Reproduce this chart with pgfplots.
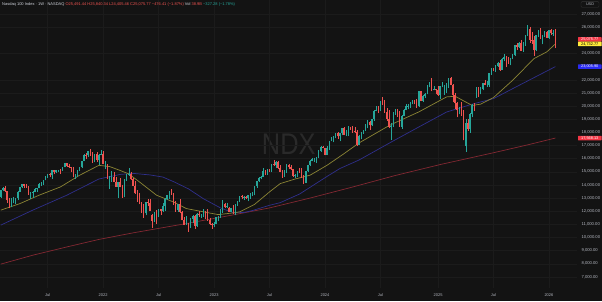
\documentclass[border=0pt]{standalone}
\usepackage{fontspec}
\setmainfont{Liberation Sans}
\usepackage{pgfplots}
\usepackage{pgfplotstable}
\pgfplotsset{compat=1.18}
\definecolor{bg}{HTML}{131313}
\definecolor{gridc}{HTML}{1B1B1B}
\definecolor{upc}{HTML}{26A69A}
\definecolor{dnc}{HTML}{EF5350}
\definecolor{maY}{HTML}{8C8535}
\definecolor{maB}{HTML}{2F2F8C}
\definecolor{maR}{HTML}{832832}
\definecolor{axtxt}{HTML}{B2B5BE}
\definecolor{ttl}{HTML}{D1D4DC}
\definecolor{boxR}{HTML}{F23645}
\definecolor{boxY}{HTML}{FFEB3B}
\definecolor{boxB}{HTML}{2B2BF2}
\definecolor{wm}{HTML}{2A2A2A}
\definecolor{usdb}{HTML}{363636}

\pgfplotstableread{
o h l c
13070 13640 12990 13613
13613 13810 13560 13803
13803 13880 13460 13535
13535 13560 12650 12828
12828 13040 12210 12669
12669 13000 12300 12799
12799 13100 12590 12870
12870 13000 12580 12978
12978 13500 12850 13480
13480 13850 13470 13845
13845 14050 13800 14041
14041 14060 13750 13951
13951 14070 13800 13860
13860 13900 13250 13420
13420 13440 12950 13430
13430 13540 13010 13470
13470 13760 13450 13686
13686 13790 13450 13773
13773 14110 13730 14069
14069 14200 13930 14142
14142 14400 14000 14360
14360 14650 14350 14640
14640 14850 14550 14810
14810 14900 14640 14730
14730 15130 14450 15120
15120 15150 14820 14960
14960 15120 14900 15100
15100 15170 14990 15160
15160 15210 14840 15080
15080 15380 15070 15340
15340 15660 15340 15650
15650 15700 15400 15420
15420 15560 15300 15330
15330 15400 14950 15320
15320 15340 14580 14690
14690 14850 14450 14720
14720 15150 14620 15150
15150 15360 15040 15340
15340 15850 15280 15850
15850 16320 15800 16290
16290 16400 15950 16250
16250 16600 16160 16570
16570 16765 16200 16280
16280 16480 15700 15740
15740 16330 15720 16330
16330 16500 15730 15880
15880 16320 15510 16300
16300 16660 16250 16320
16320 16570 15600 15610
15610 15790 15250 15611
15500 15600 14430 14440
14440 14660 13725 14540
14540 15050 14250 14600
14600 14950 14250 14254
14254 14600 13860 13870
13870 14000 13020 14230
14230 14490 13830 13840
13840 14010 13040 13300
13300 14440 13050 14420
14420 14820 14330 14810
14810 15260 14700 14860
14860 15000 14400 14450
14450 14520 13890 13900
13900 14320 13330 13350
13350 13580 12720 12850
12850 13390 12510 12580
12580 12690 11850 12390
12390 12550 11500 11835
11835 12700 11680 12680
12680 12940 12400 12650
12650 12950 12000 12010
11700 11800 10690 11265
11265 11950 11200 11900
11900 12110 11040 11600
11600 12200 11540 12130
12130 12200 11720 12050
12050 12600 11930 12390
12390 12970 12000 12950
12950 13240 12840 13200
13200 13570 12950 13530
13530 13720 13250 13290
13290 13350 12500 12600
12600 12750 11960 12100
12100 12550 11970 12540
12540 12950 11850 11930
11930 12000 11300 11310
11310 11540 10950 10970
10970 11660 10950 11040
11040 11130 10440 10770
10770 11480 10720 11440
11440 11710 11080 11670
11670 11700 10670 10900
10900 11850 10800 11800
11800 12000 11570 11680
11680 11820 11470 11790
11790 12160 11550 11960
11960 12000 11420 11560
11560 12170 11290 11320
11320 11490 10950 11060
11060 11080 10670 10940
10940 11140 10760 11040
11040 11550 10990 11540
11540 11640 11250 11620
11620 12180 11500 12170
12170 12880 11900 12570
12570 12650 12220 12300
12300 12600 12240 12360
12250 12320 11930 11960
11960 12280 11910 12260
12260 12470 11820 11830
11830 12540 11690 12520
12520 12790 12400 12770
12770 13190 12690 13180
13180 13200 12920 13060
13060 13140 12870 13080
13080 13150 12950 13000
13000 13270 12770 13250
13250 13350 12950 13340
13340 13470 13150 13340
13340 13900 13200 13880
13880 14320 13770 14300
14300 14630 14250 14550
14550 14700 14430 14620
14620 15280 14600 15080
15080 15100 14760 14890
14890 15200 14760 15180
15180 15230 14950 15040
15040 15600 15000 15560
15560 15930 15430 15490
15490 15800 15300 15750
15750 15820 15220 15270
15270 15500 14960 15020
15020 15120 14560 14690
14690 15170 14620 14940
14940 15600 14930 15480
15480 15560 15220 15330
15330 15500 15150 15200
15200 15250 14600 14700
14700 14820 14540 14720
14720 15050 14600 14990
14990 15290 14960 14980
14980 15280 14530 14540
14540 14780 14060 14180
14180 15070 14130 15050
15050 15540 14980 15530
15530 15880 15430 15840
15840 16070 15800 15980
15980 16050 15740 15990
15990 16100 15700 16090
16090 16640 16020 16620
16620 16970 16500 16880
16880 16970 16800 16830
16830 16840 16240 16310
16310 16930 16270 16830
16830 17320 16680 17310
17350 17670 17320 17420
17420 17690 17230 17640
17640 17970 17540 17960
17960 18040 17530 17690
17690 17960 17320 17940
17940 18330 17800 18300
18300 18420 17800 17810
17810 18200 17720 17810
17810 18470 17750 18340
18340 18400 18200 18250
18250 18490 17960 18120
18120 18400 17950 18000
18000 18150 17000 17040
17040 17800 17020 17720
17720 18050 17470 18000
18000 18210 17900 18160
18160 18640 18090 18550
18550 18910 18310 18810
18810 18830 18200 18540
18540 19010 18480 19000
19000 19680 18900 19660
19660 20000 19590 19700
19700 19980 19470 19680
19680 20400 19660 20390
20390 20690 20050 20330
20330 20460 19500 19520
19520 19860 18870 19020
19020 19700 18310 18440
18440 18700 17430 18520
18520 19520 18400 19510
19510 19780 19330 19720
19720 19750 19200 19570
19570 19600 18410 18420
18420 19290 18280 19250
19250 19800 19210 19690
19690 20190 19680 20000
20000 20160 19750 20010
20010 20290 19880 20270
20270 20480 20150 20360
20360 20460 20150 20350
20350 20550 19880 19990
19990 21180 19970 21120
21120 21150 20380 20390
20390 20810 20300 20740
20740 20990 20630 20930
20930 21640 20900 21620
21620 21830 21430 21780
21780 22130 21150 21290
21290 21550 21210 21330
21330 21340 20890 21190
21190 21540 20800 20850
20850 21530 20540 21510
21510 21830 21430 21620
21000 21600 20860 21480
21480 21780 21000 21490
21490 22170 21400 22110
22110 22220 21600 21610
21610 21650 20350 20880
20880 21000 19800 20200
20200 20300 19150 19700
19700 19970 19380 19750
19750 20350 19270 19280
19280 19700 17390 17400
17000 19000 16540 18690
18690 19000 18120 18260
18260 19460 17960 19430
19430 20150 19140 20100
20100 20200 19650 20060
20800 21480 20600 21430
21430 21450 20700 20915
20915 21450 20900 21340
21340 21780 21200 21760
21760 21950 21590 21630
21630 21880 21480 21630
21630 22550 21470 22530
22530 22900 22400 22870
22870 22930 22650 22780
22780 23120 22590 23070
23070 23350 22990 23270
23270 23520 22680 22760
22760 23640 22750 23610
23610 23960 23400 23710
23710 23780 22960 23500
23500 23750 23230 23420
23420 23700 23100 23650
23650 24000 23560 23860
23860 24650 23800 24620
24620 24790 24280 24500
24500 24900 24400 24790
24790 25050 24200 24220
24220 24900 24150 24820
24820 25400 24600 25360
25360 26180 25350 25860
25860 26040 24800 25060
25060 25650 24750 25010
25010 25300 23850 24240
24240 25450 24180 25430
25430 25780 25250 25690
25690 25930 25100 25200
25200 25450 24700 25350
25350 25720 25250 25640
25640 25700 25200 25210
25210 25800 25100 25770
25770 25880 25400 25530
25530 25780 25350 25552
25491 25840 24405 25076
}\ndx

\pgfplotstableread{
i v
0 12080
9 12580
18 13220
28 13850
37 14740
46 15490
51 15400
56 15100
60 14840
65 14230
73 13220
81 12700
87 12200
97 11890
102 11740
109 11870
112 11950
119 12520
126 13470
131 14100
138 14450
145 14740
153 15500
161 16390
168 17200
181 18420
184 18670
196 19560
209 20700
213 20750
217 20400
221 20050
225 20150
231 20650
240 21970
250 23620
256 24130
260 24732
}\smaY

\pgfplotstableread{
i v
0 10940
15 12080
31 13220
46 14450
56 14800
62 14880
70 14760
76 14600
81 14250
88 13700
95 12950
103 12250
109 11880
114 11900
118 12050
126 12450
131 12650
140 13300
153 14650
159 15250
168 15900
184 17350
197 18500
209 19550
221 20150
231 20570
245 21750
260 23006
}\smaB

\pgfplotstableread{
i v
0 7970
15 8650
31 9280
46 9850
62 10350
87 11060
109 11720
126 12250
145 13000
164 13800
185 14720
206 15550
231 16450
247 17050
260 17568
}\smaR

\begin{document}
\begin{tikzpicture}[x=1bp,y=1bp]
\useasboundingbox (0,0) rectangle (602,301);
\fill[bg] (0,0) rectangle (602,301);
\node[text=wm, font=\fontsize{30}{30}\selectfont, xscale=0.85, transform shape] at (288.8,156.8) {NDX};
\begin{axis}[
  at={(0,10)}, anchor=south west,
  width=577bp, height=291bp, scale only axis,
  xmin=-0.36, xmax=270.15, ymin=6163, ymax=28317,
  axis line style={draw=none},
  major tick length=0pt,
  xtick={22,48,74,100,126,152,178,205,231,257},
  xticklabels={Jul,2022,Jul,2023,Jul,2024,Jul,2025,Jul,2026},
  ytick={7000,8000,9000,10000,11000,12000,13000,14000,15000,16000,17000,18000,19000,20000,21000,22000,24000,26000,27000},
  scaled y ticks=false,
  yticklabel pos=right,
  grid=major,
  grid style={draw=gridc, line width=0.4bp},
  xticklabel style={font=\fontsize{4}{4}\selectfont, text=axtxt, yshift=-2.5bp},
  yticklabel style={font=\fontsize{4.2}{4.2}\selectfont, text=axtxt, xshift=1bp,
    /pgf/number format/.cd, fixed, fixed zerofill, precision=2, 1000 sep={,}, assume math mode=true},
  clip=false,
  candle/.style={only marks, mark=*, mark size=0pt, mark options={draw=none, fill=none}, forget plot, restrict y to domain=0:60000},
]
% moving averages
\addplot[maR, line width=0.7bp, forget plot] table[x=i, y=v] {\smaR};
\addplot[maB, line width=0.7bp, forget plot] table[x=i, y=v] {\smaB};
\addplot[maY, line width=0.7bp, forget plot] table[x=i, y=v] {\smaY};
% wicks up
\addplot[upc, candle,
  error bars/.cd, y dir=plus, y explicit, error mark=none,
  error bar style={color=upc, line width=0.45bp}]
  table[x expr=\coordindex, y expr={\thisrow{l}+100000*(\thisrow{c}<\thisrow{o})},
        y error expr={\thisrow{h}-\thisrow{l}}] {\ndx};
% wicks down
\addplot[dnc, candle,
  error bars/.cd, y dir=plus, y explicit, error mark=none,
  error bar style={color=dnc, line width=0.45bp}]
  table[x expr=\coordindex, y expr={\thisrow{l}+100000*(\thisrow{c}>=\thisrow{o})},
        y error expr={\thisrow{h}-\thisrow{l}}] {\ndx};
% bodies up
\addplot[upc, candle,
  error bars/.cd, y dir=plus, y explicit, error mark=none,
  error bar style={color=upc, line width=1.5bp}]
  table[x expr=\coordindex, y expr={\thisrow{o}+100000*(\thisrow{c}<\thisrow{o})},
        y error expr={\thisrow{c}-\thisrow{o}}] {\ndx};
% bodies down
\addplot[dnc, candle,
  error bars/.cd, y dir=plus, y explicit, error mark=none,
  error bar style={color=dnc, line width=1.5bp}]
  table[x expr=\coordindex, y expr={\thisrow{c}+100000*(\thisrow{c}>=\thisrow{o})},
        y error expr={\thisrow{o}-\thisrow{c}}] {\ndx};
\coordinate (bR) at (axis cs:270.15,25075.77);
\coordinate (bY) at (axis cs:270.15,24732.77);
\coordinate (bB) at (axis cs:270.15,23005.90);
\coordinate (bR2) at (axis cs:270.15,17568.13);
\end{axis}
\tikzset{pbox/.style={anchor=west, font=\fontsize{3.9}{3.9}\selectfont, minimum width=23.5bp, minimum height=4.6bp, inner sep=0pt, rounded corners=0.5bp}}
\node[pbox, fill=boxR, text=white] at ([xshift=0.8bp]bR) {25,075.77};
\node[pbox, fill=boxY, text=black] at ([xshift=0.8bp]bY) {24,732.77};
\node[pbox, fill=boxB, text=white] at ([xshift=0.8bp]bB) {23,005.90};
\node[pbox, fill=boxR, text=white] at ([xshift=0.8bp]bR2) {17,568.13};
\node[draw=usdb, line width=0.4bp, fill=bg, text=axtxt, font=\fontsize{3.8}{3.8}\selectfont, rounded corners=1bp, minimum width=18bp, minimum height=5.6bp, inner sep=0pt] at (590,296.5) {USD};
\node[anchor=west, inner sep=0pt, font=\fontsize{4}{4}\selectfont] at (2,297) {\textcolor{ttl}{Nasdaq 100 Index · 1W · NASDAQ} \textcolor{dnc}{O25,491.44 H25,840.34 L24,405.46 C25,075.77 −476.41 (−1.87\%)} \textcolor{ttl}{Vol} \textcolor{dnc}{38.9B} \textcolor{upc}{−327.28 (−1.78\%)}};
\end{tikzpicture}
\end{document}
